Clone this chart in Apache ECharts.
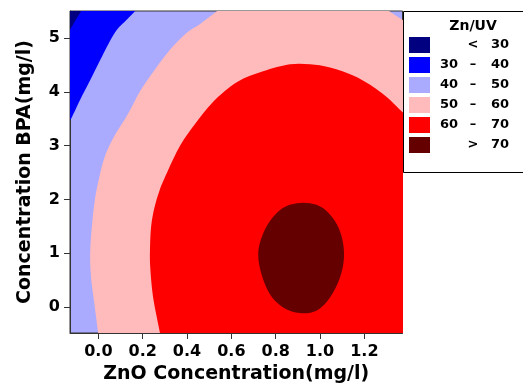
<!DOCTYPE html>
<html><head><meta charset="utf-8">
<script src="https://cdn.jsdelivr.net/npm/echarts@6/dist/echarts.min.js"></script>
<style>html,body{margin:0;padding:0;background:#fff}#c{width:523px;height:389px}</style>
</head><body><div id="c"></div>
<script>
// Tick values
const xTicks = [0.0, 0.2, 0.4, 0.6, 0.8, 1.0, 1.2];
const yTicks = [0, 1, 2, 3, 4, 5];
// Legend
const legendTitle = 'Zn/UV';
const legendLow = ['', '30', '40', '50', '60', ''];
const legendMid = ['<', '–', '–', '–', '–', '>'];
const legendHigh = ['30', '40', '50', '60', '70', '70'];
const levelColors = ['#000080', '#0000ff', '#aaaaff', '#ffbbbb', '#ff0000', '#640000'];
// Contour lines (ZnO mg/l, BPA mg/l)
const contour30 = [[-0.068,5.6],[-0.078,5.50],[-0.101,5.34],[-0.128,5.15],[-0.14,5.08]];
const contour40 = [[0.18,5.6],[0.166,5.50],[0.129,5.34],[0.075,5.10],[0.017,4.66],[-0.028,4.29],[-0.074,3.92],[-0.119,3.53],[-0.128,3.48],[-0.14,3.40]];
const contour50a = [[0.568,5.6],[0.536,5.50],[0.459,5.26],[0.400,5.10],[0.323,4.78],[0.256,4.42],[0.188,4.01],[0.134,3.59],[0.066,3.13],[0.026,2.76],[0.003,2.39],[-0.015,2.02],[-0.028,1.56],[-0.037,1.01],[-0.033,0.55],[-0.019,0.09],[-0.001,-0.48],[0.003,-0.64]];
const contour50b = [[1.42,5.20],[1.370,5.34],[1.311,5.50],[1.274,5.6]];
const contour60 = [[0.283,-0.64],[0.278,-0.48],[0.247,0.18],[0.234,0.74],[0.233,1.10],[0.238,1.50],[0.253,1.85],[0.277,2.18],[0.310,2.50],[0.369,3.00],[0.436,3.40],[0.517,3.81],[0.626,4.18],[0.743,4.38],[0.865,4.51],[0.955,4.51],[1.045,4.45],[1.167,4.27],[1.284,3.96],[1.370,3.63],[1.406,3.48]];
const contour70 = [[0.895,1.93],[0.832,1.84],[0.774,1.60],[0.736,1.29],[0.721,0.98],[0.736,0.61],[0.774,0.24],[0.832,0.00],[0.909,-0.11],[0.986,-0.06],[1.045,0.18],[1.090,0.55],[1.108,0.92],[1.099,1.29],[1.067,1.60],[1.013,1.84],[0.955,1.93]];

const FONT = 'DejaVu Sans';
const chart = echarts.init(document.getElementById('c'), null, {renderer: 'canvas'});

function curvePath(p, closed, start) {
  const n = p.length;
  let d = start ? 'M' + p[0][0] + ' ' + p[0][1] : 'L' + p[0][0] + ' ' + p[0][1];
  const segs = closed ? n : n - 1;
  const at = i => closed ? p[(i + n) % n] : p[Math.max(0, Math.min(n - 1, i))];
  for (let i = 0; i < segs; i++) {
    const p0 = at(i - 1), p1 = at(i), p2 = at(i + 1), p3 = at(i + 2);
    const c1 = [p1[0] + (p2[0] - p0[0]) / 6, p1[1] + (p2[1] - p0[1]) / 6];
    const c2 = [p2[0] - (p3[0] - p1[0]) / 6, p2[1] - (p3[1] - p1[1]) / 6];
    d += ' C' + c1[0] + ' ' + c1[1] + ' ' + c2[0] + ' ' + c2[1] + ' ' + p2[0] + ' ' + p2[1];
  }
  return d;
}

// parts: list of {curve: [...]} or {corner: [x,y]}
function regionSeries(parts, color, closedCurve) {
  const all = [];
  parts.forEach(pt => { if (pt.curve) pt.curve.forEach(q => all.push(q)); else all.push(pt.corner); });
  return {
    type: 'custom', clip: true, silent: true,
    coordinateSystem: 'cartesian2d',
    data: all,
    renderItem: function (params, api) {
      if (params.dataIndex !== 0) return null;
      let d = '';
      parts.forEach((pt, k) => {
        if (pt.curve) {
          d += ' ' + curvePath(pt.curve.map(q => api.coord(q)), !!closedCurve, k === 0);
        } else {
          const c = api.coord(pt.corner);
          d += (k === 0 ? ' M' : ' L') + c[0] + ' ' + c[1];
        }
      });
      d += ' Z';
      return {type: 'path', shape: {pathData: d}, style: {fill: color, stroke: null}};
    }
  };
}

const graphics = [];
graphics.push({type: 'rect', shape: {x: 403.5, y: 11.5, width: 130, height: 161}, style: {fill: '#fff', stroke: '#000', lineWidth: 1}, z: 10});
graphics.push({type: 'text', x: 473, y: 26, style: {text: legendTitle, font: 'bold 14px ' + FONT, fill: '#000', align: 'center', verticalAlign: 'middle'}, z: 11});
for (let i = 0; i < levelColors.length; i++) {
  const cy = 45 + 20 * i;
  graphics.push({type: 'rect', shape: {x: 409, y: cy - 8, width: 21, height: 16}, style: {fill: levelColors[i]}, z: 11});
  graphics.push({type: 'text', x: 440, y: cy, style: {text: legendLow[i], font: 'bold 13px ' + FONT, fill: '#000', align: 'left', verticalAlign: 'middle'}, z: 11});
  graphics.push({type: 'text', x: 473, y: cy, style: {text: legendMid[i], font: 'bold 13px ' + FONT, fill: '#000', align: 'center', verticalAlign: 'middle'}, z: 11});
  graphics.push({type: 'text', x: 509, y: cy, style: {text: legendHigh[i], font: 'bold 13px ' + FONT, fill: '#000', align: 'right', verticalAlign: 'middle'}, z: 11});
}

chart.setOption({
  animation: false,
  backgroundColor: '#fff',
  grid: {left: 70, top: 11, width: 332.5, height: 325, show: true, borderColor: '#333', borderWidth: 1, backgroundColor: levelColors[2], z: 0},
  xAxis: {
    type: 'value', min: -0.128, max: 1.372,
    name: 'ZnO Concentration(mg/l)', nameLocation: 'middle', nameGap: 32,
    nameTextStyle: {fontFamily: FONT, fontWeight: 'bold', fontSize: 19, color: '#000'},
    axisLine: {show: true, onZero: false, lineStyle: {color: '#333'}},
    axisTick: {show: true, length: 6, customValues: xTicks, lineStyle: {color: '#333'}},
    axisLabel: {customValues: xTicks, formatter: v => v.toFixed(1), margin: 11, fontFamily: FONT, fontWeight: 'bold', fontSize: 16, color: '#000'},
    splitLine: {show: false}
  },
  yAxis: {
    type: 'value', min: -0.48, max: 5.5,
    name: 'Concentration BPA(mg/l)', nameLocation: 'middle', nameGap: 35,
    nameTextStyle: {fontFamily: FONT, fontWeight: 'bold', fontSize: 19, color: '#000'},
    axisLine: {show: true, onZero: false, lineStyle: {color: '#333'}},
    axisTick: {show: true, length: 6, customValues: yTicks, lineStyle: {color: '#333'}},
    axisLabel: {customValues: yTicks, margin: 10, fontFamily: FONT, fontWeight: 'bold', fontSize: 16, color: '#000'},
    splitLine: {show: false}
  },
  series: [
    regionSeries([{corner: [-0.3, 5.7]}, {curve: contour40}, {corner: [-0.3, 3.3]}], levelColors[1]),
    regionSeries([{corner: [-0.3, 5.7]}, {curve: contour30}, {corner: [-0.3, 5.0]}], levelColors[0]),
    regionSeries([{curve: contour50a}, {corner: [1.6, -0.7]}, {corner: [1.6, 5.2]}, {curve: contour50b}, {corner: [1.2, 5.7]}, {corner: [0.6, 5.7]}], levelColors[3]),
    regionSeries([{curve: contour60}, {corner: [1.6, 3.4]}, {corner: [1.6, -0.7]}], levelColors[4]),
    regionSeries([{curve: contour70}], levelColors[5], true)
  ],
  graphic: graphics
});
</script></body></html>
